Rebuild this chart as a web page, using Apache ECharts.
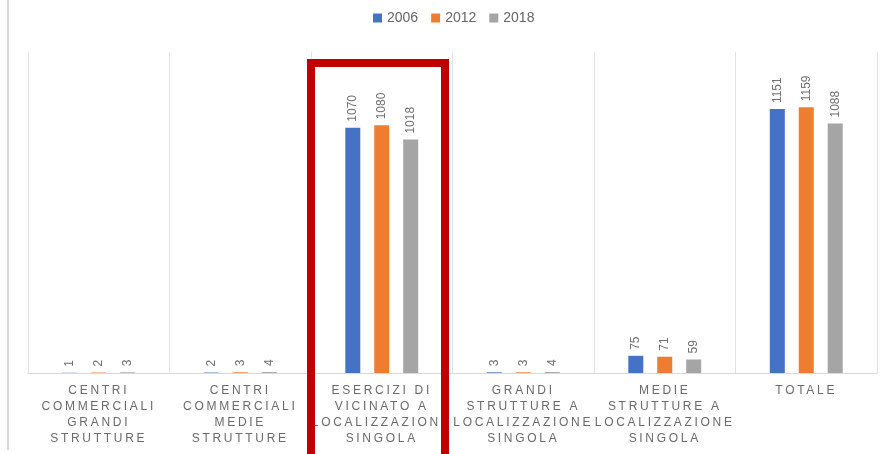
<!DOCTYPE html>
<html>
<head>
<meta charset="utf-8">
<script src="https://cdn.jsdelivr.net/npm/echarts@6/dist/echarts.min.js"></script>
<style>html,body{margin:0;padding:0;background:#fff}#c{width:886px;height:454px}</style>
</head>
<body>
<div id="c"></div>
<script>
// letter-spacing support for axis labels (marker family "ls3")
(function(){
  var P = CanvasRenderingContext2D.prototype;
  var d = Object.getOwnPropertyDescriptor(P, 'font');
  if (d && 'letterSpacing' in P) {
    Object.defineProperty(P, 'font', {
      configurable: true,
      get: function(){ return d.get.call(this); },
      set: function(v){ d.set.call(this, v); this.letterSpacing = /ls3/.test(v) ? '2.7px' : '0px'; }
    });
  }
})();

const categories = [
  'CENTRI\nCOMMERCIALI\nGRANDI\nSTRUTTURE',
  'CENTRI\nCOMMERCIALI\nMEDIE\nSTRUTTURE',
  'ESERCIZI DI\nVICINATO A\nLOCALIZZAZIONE\nSINGOLA',
  'GRANDI\nSTRUTTURE A\nLOCALIZZAZIONE\nSINGOLA',
  'MEDIE\nSTRUTTURE A\nLOCALIZZAZIONE\nSINGOLA',
  'TOTALE'
];
const seriesNames = ['2006', '2012', '2018'];
const values2006 = [1, 2, 1070, 3, 75, 1151];
const values2012 = [2, 3, 1080, 3, 71, 1159];
const values2018 = [3, 4, 1018, 4, 59, 1088];
const colors = ['#4472C4', '#ED7D31', '#A5A5A5'];

const chart = echarts.init(document.getElementById('c'), null, {renderer: 'canvas'});
const allValues = [values2006, values2012, values2018];
chart.setOption({
  animation: false,
  backgroundColor: '#fff',
  color: colors,
  legend: {
    left: 368, top: 6,
    icon: 'rect', itemWidth: 9, itemHeight: 9, itemGap: 13,
    textStyle: {color: '#666666', fontSize: 14, fontFamily: 'Liberation Sans'},
    data: seriesNames
  },
  grid: {left: 28, right: 9, top: 52, bottom: 81, containLabel: false},
  xAxis: {
    type: 'category',
    data: categories,
    axisLine: {lineStyle: {color: '#d9d9d9', width: 1}},
    axisTick: {show: false},
    splitLine: {show: true, lineStyle: {color: '#e3e3e3', width: 1}},
    axisLabel: {
      color: '#6a6a6a', fontSize: 12, fontFamily: "'Liberation Sans', ls3",
      lineHeight: 16, margin: 10, interval: 0
    }
  },
  yAxis: {
    type: 'value', min: 0, max: 1400, show: false,
    splitLine: {show: false}
  },
  series: seriesNames.map((n, i) => ({
    name: n,
    type: 'bar',
    data: allValues[i],
    barWidth: 15,
    barGap: '93%',
    itemStyle: {color: colors[i]},
    label: {
      show: true, position: 'top', rotate: 90, align: 'left', verticalAlign: 'middle',
      distance: 6, color: '#707070', fontSize: 12, fontFamily: 'Liberation Sans'
    }
  })),
  graphic: [
    {type: 'line', shape: {x1: 8, y1: 0, x2: 8, y2: 450}, style: {stroke: '#d9d9d9', lineWidth: 2}, z: 100},
    {type: 'rect', shape: {x: 311, y: 63, width: 134, height: 400},
     style: {fill: 'none', stroke: '#C00000', lineWidth: 8}, z: 100}
  ]
});
</script>
</body>
</html>
